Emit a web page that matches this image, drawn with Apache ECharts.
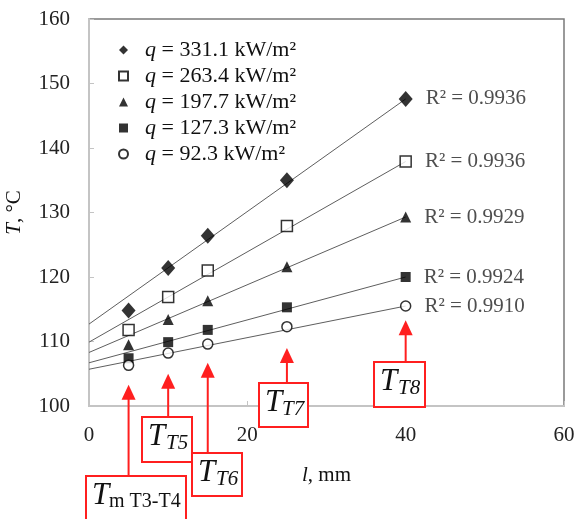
<!DOCTYPE html>
<html>
<head>
<meta charset="utf-8">
<script src="https://cdn.jsdelivr.net/npm/echarts@6/dist/echarts.min.js"></script>
<style>
  html, body { margin: 0; padding: 0; background: #fff; }
  #main { width: 574px; height: 519px; }
</style>
</head>
<body>
<div id="main"></div>
<script>
// heat flux of each run, kW/m2
var qValues = ['331.1', '263.4', '197.7', '127.3', '92.3'];
// thermocouple positions, mm
var lPos = [5, 10, 15, 25, 40];
// measured temperatures, °C (one row per heat flux)
var temp331 = [114.8, 121.4, 126.4, 135.0, 147.6];
var temp263 = [111.8, 116.9, 121.0, 127.9, 137.9];
var temp198 = [109.5, 113.4, 116.3, 121.6, 129.3];
var temp127 = [107.4, 109.9, 111.8, 115.3, 120.0];
var temp92  = [106.3, 108.2, 109.6, 112.3, 115.5];
// fitted lines: value at l = 0 and at l = 40
var fitStart = [112.7, 109.9, 108.3, 106.7, 105.7];
var fitEnd   = [147.6, 137.9, 129.3, 120.0, 115.5];
var r2Values = ['0.9936', '0.9936', '0.9929', '0.9924', '0.9910'];
// thermocouple labels: main letter + subscript
var tcSub = ['m T3-T4', 'T5', 'T6', 'T7', 'T8'];
var tcTip = [103.3, 105.0, 106.7, 109.0, 113.3];

var FONT = "'Liberation Serif', 'DejaVu Serif', serif";
var RED = '#ff1f1f';
var allTemps = [temp331, temp263, temp198, temp127, temp92];

var markers = [
  { symbol: 'diamond', size: [14, 16], color: '#000', border: '#000' },
  { symbol: 'rect', size: 11, color: '#fff', border: '#000' },
  { symbol: 'triangle', size: 11, color: '#000', border: '#000' },
  { symbol: 'rect', size: 10, color: '#000', border: '#000' },
  { symbol: 'circle', size: 10, color: '#fff', border: '#000' }
];

var chart = echarts.init(document.getElementById('main'));

var series = [];
// trend lines first so markers sit on top
for (var i = 0; i < qValues.length; i++) {
  series.push({
    type: 'line',
    name: 'fit' + i,
    data: [[0, fitStart[i]], [40, fitEnd[i]]],
    symbol: 'none',
    silent: true,
    lineStyle: { color: '#5e5e5e', width: 1 },
    z: 1
  });
}
for (var i = 0; i < qValues.length; i++) {
  var pts = [];
  for (var j = 0; j < lPos.length; j++) {
    var p = { value: [lPos[j], allTemps[i][j]] };
    if (j === lPos.length - 1) {
      p.label = {
        show: true,
        position: 'right',
        distance: 13,
        formatter: 'R² = ' + r2Values[i],
        fontFamily: FONT,
        fontSize: 21,
        color: '#222'
      };
    }
    pts.push(p);
  }
  series.push({
    type: 'scatter',
    name: qValues[i],
    data: pts,
    symbol: markers[i].symbol,
    symbolSize: markers[i].size,
    itemStyle: {
      color: markers[i].color,
      borderColor: markers[i].border,
      borderWidth: markers[i].color === '#fff' ? 1.5 : 0
    },
    z: 3
  });
}

chart.setOption({
  backgroundColor: '#fff',
  animation: false,
  grid: {
    left: 89, right: 10, top: 19, bottom: 113,
    containLabel: false,
    outerBoundsMode: 'none',
    show: true, borderColor: '#7a7a7a', borderWidth: 1.5
  },
  legend: {
    data: qValues,
    orient: 'vertical',
    left: 113,
    top: 34,
    itemWidth: 9,
    itemHeight: 9,
    itemGap: 4,
    formatter: function (name) { return '{i|q} = ' + name + ' kW/m²'; },
    textStyle: {
      fontFamily: FONT, fontSize: 22, color: '#111',
      padding: [0, 0, 0, 12],
      rich: { i: { fontFamily: FONT, fontSize: 22, fontStyle: 'italic', color: '#111' } }
    }
  },
  xAxis: {
    type: 'value',
    min: 0, max: 60, interval: 20,
    name: '{i|l}, mm',
    nameLocation: 'middle',
    nameGap: 59,
    nameTextStyle: {
      fontFamily: FONT, fontSize: 21, color: '#111',
      rich: { i: { fontFamily: FONT, fontSize: 21, fontStyle: 'italic', color: '#111' } }
    },
    splitLine: { show: false },
    axisLine: { lineStyle: { color: '#c4c4c4', width: 2 } },
    axisTick: { inside: true, length: 5, lineStyle: { color: '#c4c4c4' } },
    axisLabel: { margin: 19, fontFamily: FONT, fontSize: 21, color: '#222' }
  },
  yAxis: {
    type: 'value',
    min: 100, max: 160, interval: 10,
    name: '{i|T}, °C',
    nameLocation: 'middle',
    nameGap: 64,
    nameTextStyle: {
      fontFamily: FONT, fontSize: 21, color: '#111',
      rich: { i: { fontFamily: FONT, fontSize: 21, fontStyle: 'italic', color: '#111' } }
    },
    splitLine: { show: false },
    axisLine: { show: true, lineStyle: { color: '#c4c4c4', width: 2 } },
    axisTick: { show: true, inside: true, length: 5, lineStyle: { color: '#c4c4c4' } },
    axisLabel: { margin: 19, fontFamily: FONT, fontSize: 21, color: '#222' }
  },
  series: series
});

// red thermocouple callouts: box position in pixels
var boxes = [
  { x: 86, y: 476, w: 100, h: 52, subX: 23, subItalic: false, subSize: 20 },
  { x: 142, y: 417, w: 50, h: 45, subX: 24, subItalic: true, subSize: 21 },
  { x: 192, y: 453, w: 50, h: 43, subX: 24, subItalic: true, subSize: 21 },
  { x: 259, y: 383, w: 49, h: 44, subX: 23, subItalic: true, subSize: 21 },
  { x: 374, y: 362, w: 51, h: 45, subX: 24, subItalic: true, subSize: 21 }
];

var gfx = [];
for (var k = 0; k < tcSub.length; k++) {
  var tip = chart.convertToPixel({ gridIndex: 0 }, [lPos[k], tcTip[k]]);
  var b = boxes[k];
  var ax = tip[0];
  gfx.push({
    type: 'polygon',
    shape: { points: [[ax, tip[1]], [ax - 7, tip[1] + 15], [ax + 7, tip[1] + 15]] },
    style: { fill: RED },
    z: 10
  });
  gfx.push({
    type: 'line',
    shape: { x1: ax, y1: tip[1] + 14, x2: ax, y2: b.y },
    style: { stroke: RED, lineWidth: 2 },
    z: 10
  });
  gfx.push({
    type: 'rect',
    shape: { x: b.x, y: b.y, width: b.w, height: b.h },
    style: { fill: '#fff', stroke: RED, lineWidth: 2 },
    z: 11
  });
  gfx.push({
    type: 'text',
    x: b.x + 6, y: b.y + 20,
    style: {
      text: 'T', fontFamily: FONT, fontSize: 31, fontStyle: 'italic',
      fill: '#111', verticalAlign: 'middle', align: 'left'
    },
    z: 12
  });
  gfx.push({
    type: 'text',
    x: b.x + b.subX, y: b.y + 26,
    style: {
      text: tcSub[k], fontFamily: FONT, fontSize: b.subSize,
      fontStyle: b.subItalic ? 'italic' : 'normal',
      fill: '#111', verticalAlign: 'middle', align: 'left'
    },
    z: 12
  });
}
chart.setOption({ graphic: gfx });
</script>
</body>
</html>
